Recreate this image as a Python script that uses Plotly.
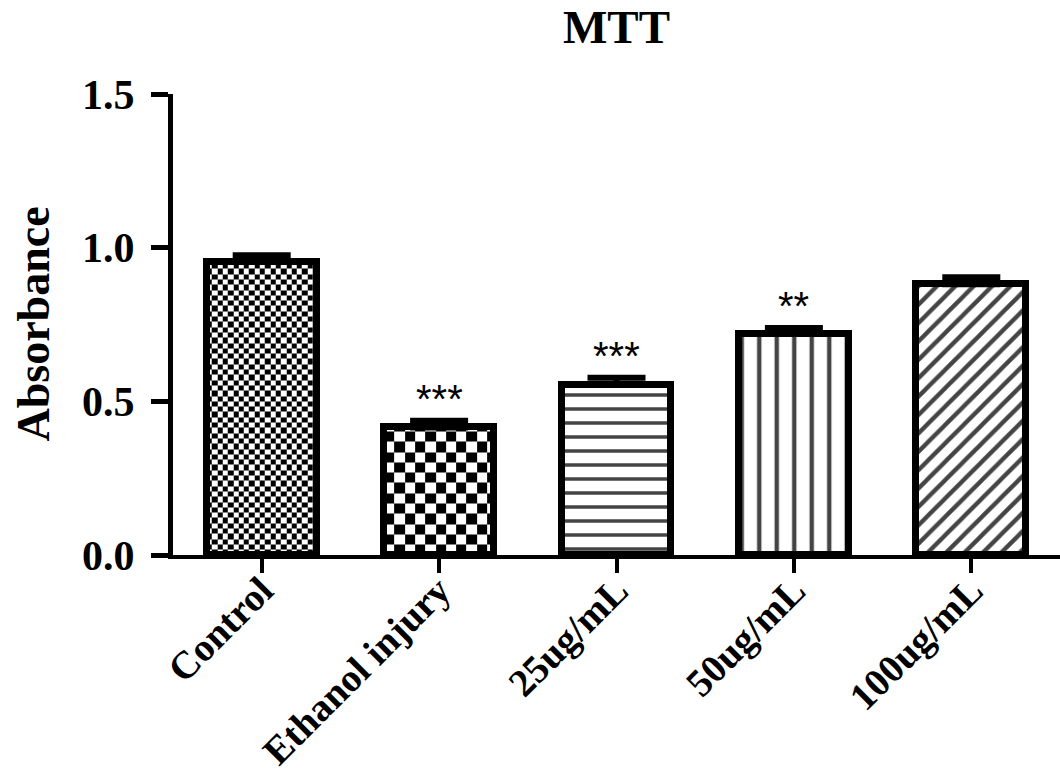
import plotly.graph_objects as go
import numpy as np

# ---------------- data ----------------
categories = ["Control", "Ethanol injury", "25ug/mL", "50ug/mL", "100ug/mL"]
means = [0.955, 0.415, 0.553, 0.719, 0.881]
sems = [0.020, 0.022, 0.024, 0.020, 0.023]
significance = ["", "***", "***", "**", ""]
y_ticks = [0.0, 0.5, 1.0, 1.5]

# ---------------- style ----------------
FONT = "Liberation Serif, Times New Roman, serif"
BAR_W = 0.62
ML, MR, MT, MB = 173, 0, 94, 225
PX_PER_X = (1060 - ML - MR) / 5.0    # px per category unit
PX_PER_Y = (780 - MT - MB) / 1.5     # px per absorbance unit
checker_px = {0: 5.3, 1: 10.3}   # checkerboard cell size (px) for first two bars
pattern_shapes = ["", "", "-", "|", "/"]
pattern_sizes = [8, 8, 14, 17.5, 13]
pattern_solid = [0.2, 0.2, 0.25, 0.25, 0.33]
bar_fill = ["rgba(0,0,0,0)", "rgba(0,0,0,0)", "white", "white", "white"]

xs = list(range(len(categories)))
fig = go.Figure()

# checkerboard fills (drawn below the bars) built from the bar values
for i, cell in checker_px.items():
    dx = cell / PX_PER_X
    dy = cell / PX_PER_Y
    left, right = xs[i] - BAR_W / 2, xs[i] + BAR_W / 2
    xe = list(np.arange(left, right, dx)) + [right]
    ye = list(np.arange(0, means[i], dy)) + [means[i]]
    z = [[(r + c) % 2 for c in range(len(xe) - 1)] for r in range(len(ye) - 1)]
    fig.add_trace(go.Heatmap(
        x=xe, y=ye, z=z, zmin=0, zmax=1,
        colorscale=[[0, "white"], [1, "black"]],
        showscale=False, hoverinfo="skip", zsmooth=False,
    ))

fig.add_trace(go.Bar(
    x=xs, y=means, width=BAR_W,
    marker=dict(
        color=bar_fill,
        line=dict(color="black", width=7),
        pattern=dict(shape=pattern_shapes, size=pattern_sizes,
                     solidity=pattern_solid, fgcolor="black", bgcolor="white",
                     fgopacity=1),
    ),
    error_y=dict(type="data", array=sems, arrayminus=[0] * len(sems),
                 symmetric=False, color="black", thickness=6, width=29),
    showlegend=False,
))

for i, s in enumerate(significance):
    if s:
        fig.add_annotation(
            x=xs[i], y=means[i] + sems[i], text=s, showarrow=False,
            yanchor="middle", yshift=22,
            font=dict(family="Liberation Sans, Arial, sans-serif", size=40, color="black"),
        )

fig.add_annotation(
    text="Absorbance", textangle=-90, showarrow=False,
    xref="paper", yref="paper", x=(33 - ML) / (1060 - ML - MR), y=0.5,
    xanchor="center", yanchor="middle",
    font=dict(family=FONT, size=46, color="black", weight="bold"),
)

fig.update_layout(
    width=1060, height=780,
    margin=dict(l=ML, r=MR, t=MT, b=MB, autoexpand=False),
    plot_bgcolor="white", paper_bgcolor="white",
    title=dict(text="MTT", x=0.5, xref="paper", xanchor="center",
               y=1 - 27 / 780, yref="container", yanchor="middle",
               automargin=False,
               font=dict(family=FONT, size=47, color="black", weight="bold")),
    bargap=0,
    xaxis=dict(
        range=[-0.5, 4.5], tickmode="array", tickvals=xs, ticktext=categories,
        tickangle=-45, showgrid=False, zeroline=False, automargin=False,
        showline=True, linecolor="black", linewidth=4,
        ticks="outside", ticklen=14, tickwidth=4, tickcolor="black",
        ticklabelstandoff=-21,
        tickfont=dict(family=FONT, size=39, color="black", weight="bold"),
    ),
    yaxis=dict(
        range=[0, 1.5], tickmode="array", tickvals=y_ticks, tickformat=".1f",
        showgrid=False, zeroline=False, automargin=False,
        showline=True, linecolor="black", linewidth=5,
        ticks="outside", ticklen=17, tickwidth=5, tickcolor="black",
        ticklabelstandoff=8,
        tickfont=dict(family=FONT, size=42, color="black", weight="bold"),
    ),
)

fig.write_html(
    "out.html",
    config={"displayModeBar": False},
    post_script="document.body.style.margin='0';document.body.style.overflow='hidden';",
)
